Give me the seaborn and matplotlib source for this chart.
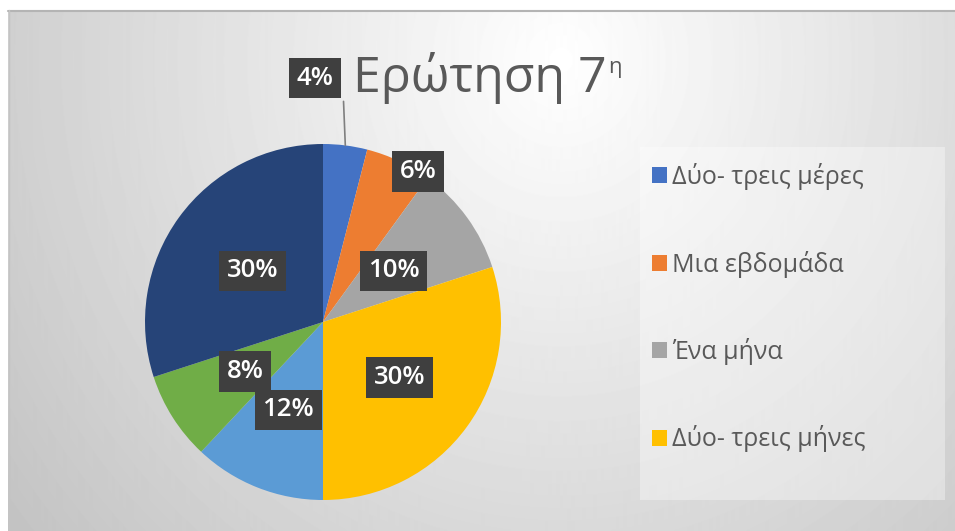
import numpy as np
import matplotlib
matplotlib.use("Agg")
import matplotlib.pyplot as plt
from matplotlib.patches import Rectangle
import seaborn as sns

# data
values = [4, 6, 10, 30, 12, 8, 30]
legend_labels = ["Δύο- τρεις μέρες", "Μια εβδομάδα", "Ένα μήνα", "Δύο- τρεις μήνες"]
colors = ["#4472C4", "#ED7D31", "#A5A5A5", "#FFC000", "#5B9BD5", "#70AD47", "#264478"]
title = "Ερώτηση 7"
title_sup = "η"

# where the data labels sit (radius as a fraction, angle shift in degrees)
label_r = [1.37, 1.0, 0.49, 0.53, 0.53, 0.52, 0.49]
label_shift = [9, -7, 0, 0, 0, 0, 0]

sns.set_theme(style="white")
plt.rcParams['font.family'] = ['Open Sans', 'DejaVu Sans']

W, H = 955, 531
fig = plt.figure(figsize=(W / 100, H / 100), dpi=100)

# background panel with soft radial gradient
bg = fig.add_axes([0, 0, 1, 1])
yy, xx = np.mgrid[0:H, 0:W]
d = np.sqrt(((xx - 560) / 560.0) ** 2 + ((yy - 60) / 600.0) ** 2)
shade = np.clip(255 - 48 * d, 185, 255) / 255.0
shade[(xx < 8) | (yy < 10)] = 1.0
bg.imshow(shade, cmap="gray", vmin=0, vmax=1, extent=[0, W, H, 0], aspect="auto")
bg.plot([8, W], [10.5, 10.5], color="#b4b4b4", lw=1.5)
bg.plot([8.5, 8.5], [10, H], color="#c4c4c4", lw=1)
# legend area
bg.add_patch(Rectangle((640, 147), 305, 353, facecolor="white", alpha=0.35,
                       edgecolor="none"))
bg.set_xlim(0, W)
bg.set_ylim(H, 0)
bg.axis("off")

# pie axes: centre (323, 322) px, radius 178 px
R = 178
L = 1.5
side = 2 * L * R
cx, cy = 323, 322
ax = fig.add_axes([(cx - side / 2) / W, (H - cy - side / 2) / H, side / W, side / H])
wedges, _ = ax.pie(values, colors=colors, startangle=90, counterclock=False,
                   radius=1, wedgeprops=dict(linewidth=0))
ax.set_xlim(-L, L)
ax.set_ylim(-L, L)
ax.axis("off")

for i, w in enumerate(wedges):
    mid = (w.theta1 + w.theta2) / 2
    ang = np.deg2rad(mid + label_shift[i])
    x, y = label_r[i] * np.cos(ang), label_r[i] * np.sin(ang)
    ax.text(x, y, f"{values[i]}%", ha="center", va="center", color="white",
            fontsize=18.5, fontweight="semibold", zorder=5,
            bbox=dict(boxstyle="square,pad=0.3", fc="#3f3f3f", ec="none"))
    if label_r[i] > 1.1:
        m = np.deg2rad(mid)
        ex, ey = np.cos(m), np.sin(m)
        ax.plot([ex, ex - 0.01], [ey, y - 0.13], color="#7f7f7f", lw=1.2,
                zorder=4, clip_on=False)

# title with superscript
t = fig.text(353 / W, 1 - 92 / H, title, fontsize=36, color="#595959",
             ha="left", va="baseline")
fig.canvas.draw()
bb = t.get_window_extent()
fig.text((bb.x1 + 2) / W, 1 - 73 / H, title_sup, fontsize=16, color="#595959",
         ha="left", va="baseline")

# legend (only the first four entries are visible in the original)
leg = fig.legend(wedges[:4], legend_labels, loc="upper left",
                 bbox_to_anchor=(652 / W, 1 - 163 / H), frameon=False,
                 fontsize=18, labelcolor="#595959", labelspacing=2.42,
                 handlelength=0.6, handleheight=0.6, handletextpad=0.2,
                 borderaxespad=0, borderpad=0)

fig.savefig("out.png", dpi=100)
